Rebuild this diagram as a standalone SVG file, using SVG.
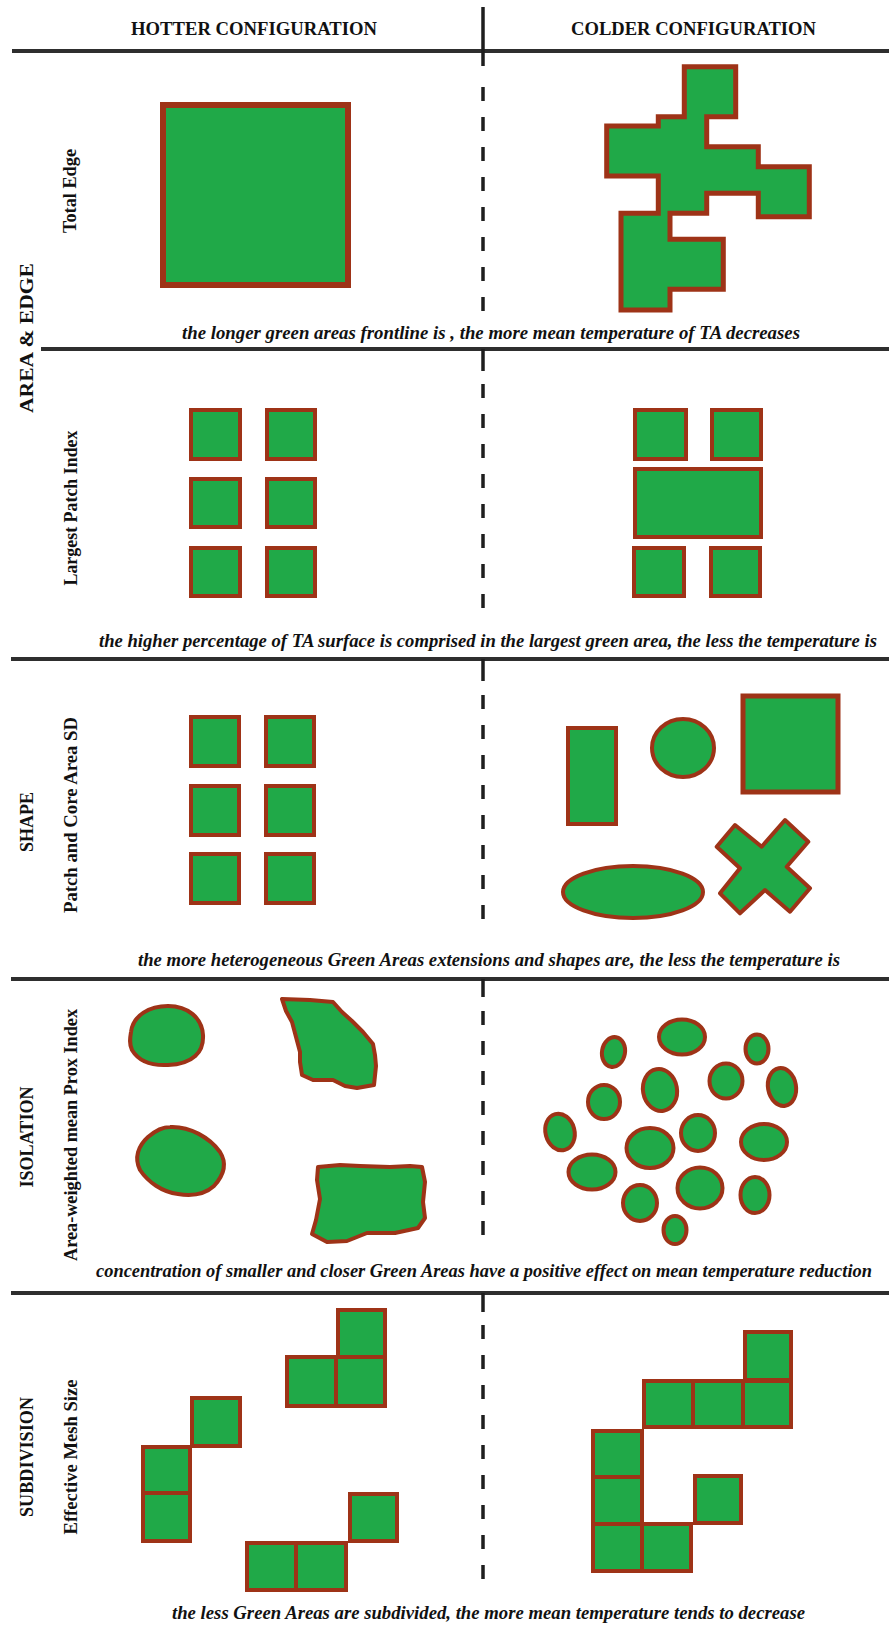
<svg xmlns="http://www.w3.org/2000/svg" width="889" height="1627" viewBox="0 0 889 1627">
<style>
  .g{fill:#20a948;stroke:#9e3317;stroke-width:4;stroke-linejoin:miter}
  .gb{fill:#20a948;stroke:#9e3317;stroke-width:4;stroke-linejoin:round}
  .hl{stroke:#2e2e2e;stroke-width:4;fill:none}
  .dv{stroke:#1e1e1e;stroke-width:3.5;fill:none}
  .dd{stroke:#1e1e1e;stroke-width:3.5;fill:none;stroke-dasharray:14 16}
  .hd{font-family:"Liberation Serif","Times New Roman",serif;font-weight:bold;font-size:18.5px;fill:#111111}
  .cap{font-family:"Liberation Serif","Times New Roman",serif;font-weight:bold;font-style:italic;font-size:19px;fill:#111111}
  .sec{font-family:"Liberation Serif","Times New Roman",serif;font-weight:bold;font-size:18px;fill:#111111;text-anchor:middle}
  .sub{font-family:"Liberation Serif","Times New Roman",serif;font-weight:bold;font-size:18px;fill:#111111;text-anchor:middle}
</style>
<rect x="0" y="0" width="889" height="1627" fill="#ffffff"/>

<g id="connectors">
  <line class="hl" x1="12" y1="51" x2="889" y2="51"/>
  <line class="hl" x1="41" y1="349" x2="889" y2="349"/>
  <line class="hl" x1="11" y1="659" x2="889" y2="659"/>
  <line class="hl" x1="11" y1="979" x2="889" y2="979"/>
  <line class="hl" x1="11" y1="1293" x2="889" y2="1293"/>
  <line class="dv" x1="483" y1="7" x2="483" y2="66"/>
  <line class="dd" x1="483" y1="87" x2="483" y2="320"/>
  <line class="dv" x1="483" y1="349" x2="483" y2="371"/>
  <line class="dd" x1="483" y1="384" x2="483" y2="616"/>
  <line class="dv" x1="483" y1="659" x2="483" y2="681"/>
  <line class="dd" x1="483" y1="695" x2="483" y2="928"/>
  <line class="dv" x1="483" y1="979" x2="483" y2="997"/>
  <line class="dd" x1="483" y1="1011" x2="483" y2="1246"/>
  <line class="dv" x1="483" y1="1293" x2="483" y2="1312"/>
  <line class="dd" x1="483" y1="1325" x2="483" y2="1591"/>
</g>

<g id="headers">
  <text class="hd" x="131" y="35" textLength="246" lengthAdjust="spacingAndGlyphs">HOTTER CONFIGURATION</text>
  <text class="hd" x="571" y="35" textLength="245" lengthAdjust="spacingAndGlyphs">COLDER CONFIGURATION</text>
</g>

<g id="section-labels">
  <text class="sec" transform="translate(33,338) rotate(-90)" textLength="150" lengthAdjust="spacingAndGlyphs">AREA &amp; EDGE</text>
  <text class="sec" transform="translate(33,822) rotate(-90)" textLength="60" lengthAdjust="spacingAndGlyphs">SHAPE</text>
  <text class="sec" transform="translate(33,1137) rotate(-90)" textLength="101" lengthAdjust="spacingAndGlyphs">ISOLATION</text>
  <text class="sec" transform="translate(33,1457) rotate(-90)" textLength="120" lengthAdjust="spacingAndGlyphs">SUBDIVISION</text>
  <text class="sub" transform="translate(76,191) rotate(-90)" textLength="84" lengthAdjust="spacingAndGlyphs">Total Edge</text>
  <text class="sub" transform="translate(77,508) rotate(-90)" textLength="155" lengthAdjust="spacingAndGlyphs">Largest Patch Index</text>
  <text class="sub" transform="translate(77,815) rotate(-90)" textLength="196" lengthAdjust="spacingAndGlyphs">Patch and Core Area SD</text>
  <text class="sub" transform="translate(77,1135) rotate(-90)" textLength="252" lengthAdjust="spacingAndGlyphs">Area-weighted mean Prox Index</text>
  <text class="sub" transform="translate(77,1457) rotate(-90)" textLength="155" lengthAdjust="spacingAndGlyphs">Effective Mesh Size</text>
</g>

<g id="captions">
  <text class="cap" x="182" y="339" textLength="618" lengthAdjust="spacingAndGlyphs">the longer green areas frontline is , the more mean temperature of TA decreases</text>
  <text class="cap" x="99" y="647" textLength="778" lengthAdjust="spacingAndGlyphs">the higher percentage of TA surface is comprised in the largest green area, the less the temperature is</text>
  <text class="cap" x="138" y="966" textLength="702" lengthAdjust="spacingAndGlyphs">the more heterogeneous Green Areas extensions and shapes are, the less the temperature is</text>
  <text class="cap" x="96" y="1277" textLength="776" lengthAdjust="spacingAndGlyphs" style="font-size:18px">concentration of smaller and closer Green Areas have a positive effect on mean temperature reduction</text>
  <text class="cap" x="172" y="1619" textLength="633" lengthAdjust="spacingAndGlyphs">the less Green Areas are subdivided, the more mean temperature tends to decrease</text>
</g>

<g id="total-edge-hotter">
  <rect class="g" x="163" y="105" width="185" height="180" style="stroke-width:6"/>
</g>
<g id="total-edge-colder">
  <polygon class="g" style="stroke-width:5" points="684.3,66.7 735.7,66.7 735.7,116.7 706.7,116.7 706.7,146.7 758.3,146.7 758.3,166.7 809.3,166.7 809.3,216.7 758.3,216.7 758.3,193.3 706.7,193.3 706.7,213.3 670,213.3 670,239.3 723.3,239.3 723.3,289.3 670,289.3 670,310 621,310 621,213.3 658.3,213.3 658.3,176 606.7,176 606.7,126 658.3,126 658.3,116.7 684.3,116.7"/>
</g>

<g id="lpi-hotter">
  <rect class="g" x="191" y="410" width="49" height="49"/>
  <rect class="g" x="267" y="410" width="48" height="49"/>
  <rect class="g" x="191" y="479" width="49" height="48"/>
  <rect class="g" x="267" y="479" width="48" height="48"/>
  <rect class="g" x="191" y="548" width="49" height="48"/>
  <rect class="g" x="267" y="548" width="48" height="48"/>
</g>
<g id="lpi-colder">
  <rect class="g" x="635" y="410" width="51" height="49"/>
  <rect class="g" x="712" y="410" width="49" height="49"/>
  <rect class="g" x="635" y="469" width="126" height="68"/>
  <rect class="g" x="634" y="548" width="50" height="48"/>
  <rect class="g" x="711" y="548" width="49" height="48"/>
</g>

<g id="shape-hotter">
  <rect class="g" x="191" y="717" width="48" height="49"/>
  <rect class="g" x="266" y="717" width="48" height="49"/>
  <rect class="g" x="191" y="786" width="48" height="49"/>
  <rect class="g" x="266" y="786" width="48" height="49"/>
  <rect class="g" x="191" y="854" width="48" height="49"/>
  <rect class="g" x="266" y="854" width="48" height="49"/>
</g>
<g id="shape-colder">
  <rect class="g" x="568" y="728" width="48" height="96"/>
  <ellipse class="g" cx="683" cy="748" rx="31" ry="29"/>
  <rect class="g" x="743" y="696" width="95" height="96" style="stroke-width:5"/>
  <ellipse class="g" cx="633" cy="892" rx="70" ry="26"/>
  <polygon class="gb" points="735,825 761.7,846.7 785,820 808.3,841.7 786.7,866.7 810,888.3 790,911.7 765,890 740,913.3 720,893.3 740,868.3 716.7,846.7"/>
</g>

<g id="isolation-hotter">
  <path class="gb" d="M131,1032 C133,1015 150,1006 168,1006 C188,1006 202,1018 203,1035 C204,1052 193,1064 168,1065 C150,1066 138,1060 132,1050 C129,1044 130,1038 131,1032 Z"/>
  <path class="gb" d="M282,999 L310,1000 L333,1002 L342,1012 L352,1021 L363,1032 L373,1044 L375,1055 L376,1066 L374,1085 L357,1088 L345,1086 L333,1080 L322,1080 L313,1080 L302,1075 L300,1062 L300,1052 L296,1037 L292,1022 L286,1011 Z"/>
  <path class="gb" d="M170,1127 C190,1126 210,1138 220,1152 C227,1163 224,1175 214,1186 C204,1195 190,1196 178,1194 C162,1192 148,1182 140,1170 C134,1158 138,1146 148,1137 C155,1131 162,1127 170,1127 Z"/>
  <path class="gb" d="M318,1167 L340,1165 L360,1166 L390,1167 L410,1166 L422,1167 L425,1182 L423,1202 L425,1218 L418,1228 L395,1233 L367,1233 L347,1241 L327,1242 L312,1234 L316,1220 L320,1199 L317,1180 Z"/>
</g>
<g id="isolation-colder">
  <ellipse class="gb" cx="613.5" cy="1052" rx="11.5" ry="15" transform="rotate(10 613.5 1052)"/>
  <ellipse class="gb" cx="682" cy="1037" rx="23" ry="17.5"/>
  <ellipse class="gb" cx="757" cy="1049" rx="11.5" ry="14.5"/>
  <ellipse class="gb" cx="604" cy="1102" rx="16" ry="17"/>
  <ellipse class="gb" cx="660" cy="1090" rx="17" ry="21" transform="rotate(-10 660 1090)"/>
  <ellipse class="gb" cx="726" cy="1081" rx="16.5" ry="17.5"/>
  <ellipse class="gb" cx="782" cy="1087" rx="14" ry="19" transform="rotate(-10 782 1087)"/>
  <ellipse class="gb" cx="560" cy="1132" rx="14.5" ry="18.5" transform="rotate(-15 560 1132)"/>
  <ellipse class="gb" cx="650" cy="1148" rx="23.5" ry="20"/>
  <ellipse class="gb" cx="698" cy="1133" rx="17" ry="18"/>
  <ellipse class="gb" cx="764" cy="1142" rx="23" ry="18"/>
  <ellipse class="gb" cx="592" cy="1172" rx="23.5" ry="17.5"/>
  <ellipse class="gb" cx="700" cy="1188" rx="22.5" ry="20.5"/>
  <ellipse class="gb" cx="755" cy="1195" rx="14.5" ry="18"/>
  <ellipse class="gb" cx="640" cy="1203" rx="17" ry="18"/>
  <ellipse class="gb" cx="675" cy="1230" rx="11.5" ry="14"/>
</g>

<g id="subdivision-hotter">
  <rect class="g" x="338" y="1310" width="47" height="47"/>
  <rect class="g" x="287" y="1357" width="49" height="49"/>
  <rect class="g" x="336" y="1357" width="49" height="49"/>
  <rect class="g" x="192" y="1398" width="48" height="48"/>
  <rect class="g" x="143" y="1447" width="47" height="46"/>
  <rect class="g" x="143" y="1493" width="47" height="48"/>
  <rect class="g" x="350" y="1494" width="47" height="47"/>
  <rect class="g" x="247" y="1543" width="49" height="47"/>
  <rect class="g" x="296" y="1543" width="50" height="47"/>
</g>
<g id="subdivision-colder">
  <rect class="g" x="745" y="1332" width="46" height="48"/>
  <rect class="g" x="644" y="1381" width="49" height="46"/>
  <rect class="g" x="693" y="1381" width="50" height="46"/>
  <rect class="g" x="743" y="1381" width="48" height="46"/>
  <rect class="g" x="593" y="1431" width="49" height="46"/>
  <rect class="g" x="593" y="1477" width="49" height="47"/>
  <rect class="g" x="593" y="1524" width="49" height="47"/>
  <rect class="g" x="642" y="1524" width="49" height="47"/>
  <rect class="g" x="695" y="1476" width="46" height="47"/>
</g>
</svg>
